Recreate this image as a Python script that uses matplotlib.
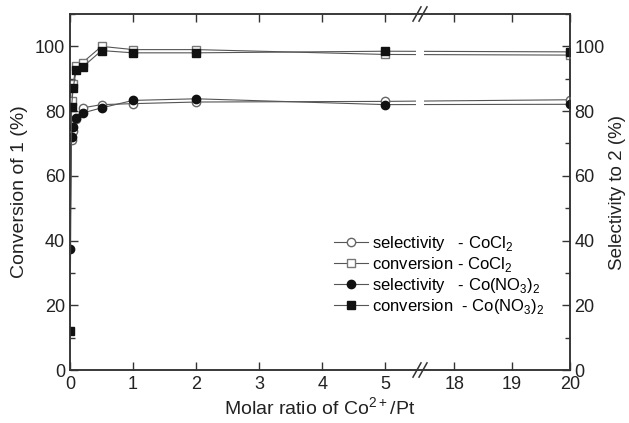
import numpy as np
import matplotlib
matplotlib.use("Agg")
import matplotlib.pyplot as plt
from matplotlib.ticker import NullLocator, MultipleLocator
from matplotlib.patches import Rectangle

plt.rcParams["font.family"] = ["Liberation Sans", "DejaVu Sans"]
plt.rcParams["mathtext.fontset"] = "custom"
plt.rcParams["mathtext.rm"] = "Liberation Sans"

# --- data ---
x_cl = [0.025, 0.05, 0.1, 0.2, 0.5, 1, 2, 5, 20]
sel_cl = [71, 74, 77.5, 81, 82, 82.3, 82.8, 83, 83.5]
conv_cl = [83, 88.5, 94, 95, 100, 99, 99, 97.5, 97.3]

x_no3 = [0, 0.025, 0.05, 0.1, 0.2, 0.5, 1, 2, 5, 20]
sel_no3 = [37.5, 72, 75, 78, 79.4, 81, 83.3, 83.8, 82, 82.1]
conv_no3 = [12, 81.3, 87.2, 92.7, 93.6, 98.7, 98, 98, 98.5, 98.3]

x_ticks = [0, 1, 2, 3, 4, 5, 18, 19, 20]

# --- broken x axis: 0..5.55 then 17.41..20 ---
BRK_L, BRK_R, K = 5.55, 17.41, 0.917


def fwd(x):
    x = np.asarray(x, dtype=float)
    return np.where(x <= BRK_L, x, np.where(x < BRK_R, BRK_L, BRK_L + (x - BRK_R) * K))


def inv(y):
    y = np.asarray(y, dtype=float)
    return np.where(y <= BRK_L, y, BRK_R + (y - BRK_L) / K)


fig = plt.figure(figsize=(6.29, 4.23), dpi=100)
ax = fig.add_axes([70 / 629, 53 / 423, 500 / 629, 356 / 423])
ax.set_xscale("function", functions=(fwd, inv))

line_col = "#555555"
ax.plot(x_cl, sel_cl, "-o", color=line_col, lw=0.8, ms=6, mfc="white", mec="#666666",
        label="selectivity   - CoCl$_2$", zorder=3)
ax.plot(x_cl, conv_cl, "-s", color=line_col, lw=0.8, ms=5.5, mfc="white", mec="#777777",
        label="conversion - CoCl$_2$", zorder=3)
ax.plot(x_no3, sel_no3, "-o", color=line_col, lw=0.8, ms=6, mfc="#111111", mec="#111111",
        label="selectivity   - Co(NO$_3$)$_2$", zorder=4)
ax.plot(x_no3, conv_no3, "-s", color=line_col, lw=0.8, ms=5.3, mfc="#111111", mec="#111111",
        label="conversion  - Co(NO$_3$)$_2$", zorder=4)

ax.set_xlim(0, 20)
ax.set_ylim(0, 110)
ax.set_xticks(x_ticks)
ax.set_xticklabels([str(t) for t in x_ticks])
ax.xaxis.set_minor_locator(NullLocator())
ax.yaxis.set_major_locator(MultipleLocator(20))
ax.yaxis.set_minor_locator(MultipleLocator(10))
ax.tick_params(axis="both", which="major", direction="in", length=6, width=1,
               labelsize=13, top=True, color="#333333", labelcolor="#222222")
ax.tick_params(axis="y", which="minor", direction="in", length=3.5, width=1, color="#333333")
ax.tick_params(axis="x", pad=4)

ax.set_xlabel("Molar ratio of Co$^{2+}$/Pt", fontsize=14, labelpad=3, color="#222222")
ax.set_ylabel("Conversion of 1 (%)", fontsize=14, labelpad=5, color="#222222")

ax2 = ax.twinx()
ax2.set_ylim(0, 110)
ax2.yaxis.set_major_locator(MultipleLocator(20))
ax2.yaxis.set_minor_locator(MultipleLocator(10))
ax2.tick_params(axis="y", which="major", direction="in", length=6, width=1, labelsize=13,
                color="#333333", labelcolor="#222222", pad=3)
ax2.tick_params(axis="y", which="minor", direction="in", length=3.5, width=1, color="#333333")
ax2.set_ylabel("Selectivity to 2 (%)", fontsize=13.5, labelpad=3, color="#222222")

for a in (ax, ax2):
    for s in a.spines.values():
        s.set_linewidth(1.1)
        s.set_color("#333333")

# --- break marks ---
bx = 0.70
ax.add_patch(Rectangle((bx - 0.008, 0.01), 0.016, 0.98, transform=ax.transAxes,
                       facecolor="white", edgecolor="none", zorder=5))
for yb in (0, 1):
    for dx in (-0.006, 0.006):
        ax.plot([bx + dx - 0.008, bx + dx + 0.008], [yb - 0.02, yb + 0.02],
                transform=ax.transAxes, color="#333333", lw=1.1, clip_on=False, zorder=6)

ax.legend(loc="upper left", bbox_to_anchor=(0.515, 0.40), frameon=False, fontsize=12,
          handlelength=2.0, handletextpad=0.3, labelspacing=0.12, borderaxespad=0)

fig.savefig("out.png", dpi=100)
